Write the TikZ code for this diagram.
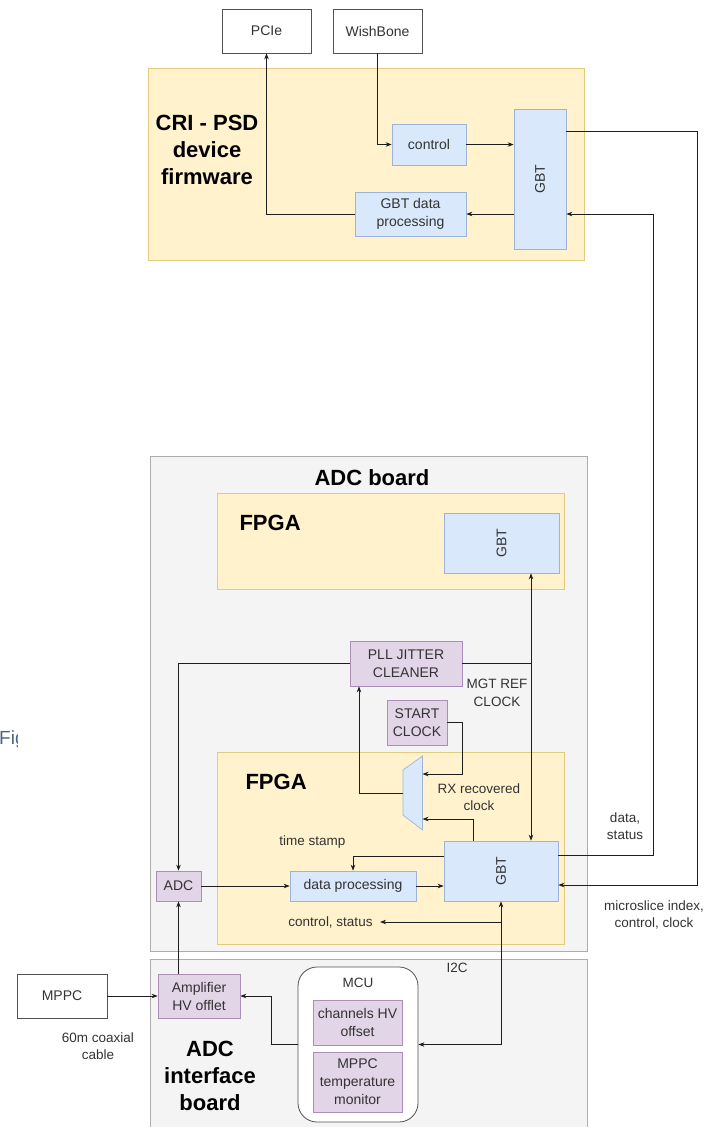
\documentclass[tikz,border=0pt]{standalone}
\usepackage{fontspec}
\setmainfont{Liberation Sans}
\usepackage{tikz}
\usetikzlibrary{positioning,calc,arrows.meta}
\definecolor{ink}      {HTML}{333333}
\definecolor{wire}     {HTML}{1E1E1E}
\definecolor{ipfill}   {HTML}{DAE8FC}
\definecolor{ipdraw}   {HTML}{9DB4D9}
\definecolor{chipfill} {HTML}{E1D5E7}
\definecolor{chipdraw} {HTML}{AB8FBA}
\definecolor{fpgafill} {HTML}{FFF2CC}
\definecolor{fpgadraw} {HTML}{E3CB7E}
\definecolor{boardfill}{HTML}{F4F4F4}
\definecolor{boarddraw}{HTML}{ADADAD}
\definecolor{figink}   {HTML}{4F6584}
\tikzset{
  >={Stealth[length=6pt,width=4.5pt]},
  every node/.style={font=\fontsize{14}{18}\selectfont, text=ink},
  % --- boxes
  mod/.style   = {draw=ink!85, fill=white, align=center, inner sep=1pt, line width=0.7pt},
  ip/.style    = {mod, draw=ipdraw, fill=ipfill},
  chip/.style  = {mod, draw=chipdraw, fill=chipfill},
  fpga/.style  = {draw=fpgadraw, fill=fpgafill, line width=0.7pt},
  board/.style = {draw=boarddraw, fill=boardfill, line width=0.9pt},
  mcubox/.style= {mod, rounded corners=19pt, line width=0.8pt},
  ttl/.style   = {font=\fontsize{22}{27}\selectfont\bfseries, text=black, align=center},
  lbl/.style   = {font=\fontsize{13.5}{17.5}\selectfont, align=center},
  % --- edges
  e/.style     = {->, draw=wire, line width=0.7pt},
  ee/.style    = {<->, draw=wire, line width=0.7pt},
  w/.style     = {draw=wire, line width=0.7pt},
}

\begin{document}
\begin{tikzpicture}[x=1pt,y=-1pt]
  \useasboundingbox (0,0) rectangle (709,1127);

  % cut-off caption at the left edge
  \begin{scope}
    \clip (0,700) rectangle (17,770);
    \node[anchor=west, inner sep=0pt, font=\fontsize{19}{21}\selectfont, text=figink] (figcut) at (-1,740) {Fig};
  \end{scope}

  % --- frames
  \node[fpga, minimum width=436, minimum height=192] (cri) at (366,164) {};
  \node[ttl] (crittl) at (207,150) {CRI - PSD\\device\\firmware};

  \node[board, minimum width=437, minimum height=495] (adcb) at (368.5,703.5) {};
  \node[ttl] (adcbttl) at (372,478) {ADC board};
  \node[fpga, minimum width=347, minimum height=96] (fpgaA) at (390.5,541) {};
  \node[ttl, anchor=west] (fpgaAttl) at (236,523) {FPGA};
  \node[fpga, minimum width=347, minimum height=192] (fpgaB) at (390.5,848) {};
  \node[ttl, anchor=west] (fpgaBttl) at (242,782) {FPGA};

  \node[board, minimum width=437, minimum height=181] (adcif) at (368.5,1049.5) {};
  \node[ttl] (adcifttl) at (210,1076) {ADC\\interface\\board};

  % --- top: CRI
  \node[mod, minimum width=89, minimum height=44] (pcie) at (266.5,31) {PCIe};
  \node[mod, minimum width=89, minimum height=44] (wish) at (377.5,31) {WishBone};
  \node[ip, minimum width=74, minimum height=41] (ctrl) at (429,144.5) {control};
  \node[ip, minimum width=111, minimum height=44] (gbtdp) at (410.5,214) {GBT data\\processing};
  \node[ip, minimum width=52, minimum height=140] (gbtA) at (540,179) {};
  \node[rotate=90] at (gbtA) {GBT};

  % --- ADC board
  \node[ip, minimum width=115, minimum height=60] (gbtB) at (501.5,543) {};
  \node[rotate=90] at (gbtB) {GBT};
  \node[chip, minimum width=112, minimum height=45] (pll) at (406,663.5) {PLL JITTER\\CLEANER};
  \node[chip, minimum width=60, minimum height=45] (start) at (417,722.5) {START\\CLOCK};
  \node[lbl] (mgt) at (497,693) {MGT REF\\CLOCK};
  \draw[ip] (403,770) -- (422.5,756) -- (422.5,830) -- (403,815) -- cycle;
  \coordinate (muxout) at (403,793);
  \coordinate (muxinA) at (422.5,774);
  \coordinate (muxinB) at (422.5,819);
  \node[lbl] (rx) at (479,797) {RX recovered\\clock};
  \node[ip, minimum width=114, minimum height=60] (gbtC) at (501,871) {};
  \node[rotate=90] at (gbtC) {GBT};
  \node[ip, minimum width=126, minimum height=30] (dproc) at (353,886) {data processing};
  \node[chip, minimum width=45, minimum height=30] (adc) at (178.5,886) {ADC};
  \node[lbl] (tstamp) at (312.5,842) {time stamp};
  \node[lbl] (ctrlst) at (330.5,922) {control, status};
  \node[lbl] (datast) at (625,826) {data,\\status};
  \node[lbl] (mslice) at (654,915) {microslice index,\\control, clock};

  % --- ADC interface board
  \node[mod, minimum width=90, minimum height=44] (mppc) at (62,996) {MPPC};
  \node[chip, minimum width=82, minimum height=44] (amp) at (199,996) {Amplifier\\HV offlet};
  \node[lbl] (coax) at (98,1046) {60m coaxial\\cable};
  \node[mcubox, minimum width=120, minimum height=155] (mcu) at (358,1044.5) {};
  \node[lbl] (mcuttl) at (358,983) {MCU};
  \node[chip, minimum width=89, minimum height=45] (chv) at (357.5,1022.5) {channels HV\\offset};
  \node[chip, minimum width=89, minimum height=60] (mtemp) at (357.5,1082) {MPPC\\temperature\\monitor};
  \node[lbl] (i2c) at (457,968) {I2C};

  % --- connectors
  \coordinate (busL) at (653,0);
  \coordinate (busR) at (697,0);
  \coordinate (clkbus) at (531,0);
  \coordinate (gbtAout) at ([yshift=48]gbtA.east);
  \coordinate (gbtAin) at ([yshift=-35]gbtA.east);
  \coordinate (gbtCout) at ([yshift=16]gbtC.east);
  \coordinate (gbtCin) at ([yshift=-14]gbtC.east);

  \draw[e] (wish.south) |- (ctrl.west);
  \draw[e] (ctrl.east) -- (gbtA.west |- ctrl.east);
  \draw[e] (gbtA.west |- gbtdp.east) -- (gbtdp.east);
  \draw[e] (gbtdp.west) -| (pcie.south);
  \draw[e] (gbtAout) -| (busR |- gbtCin) -- (gbtCin);
  \draw[e] (gbtCout) -| (busL |- gbtAin) -- (gbtAin);

  \draw[ee] (clkbus |- gbtB.south) -- (clkbus |- gbtC.north);
  \draw[w] (clkbus |- pll.east) -- (pll.east);
  \draw[e] (pll.west) -| (adc.north);
  \draw[e] (start.east) -| ($(muxinA)+(40,0)$) -- (muxinA);
  \draw[e] (muxout) -| ([xshift=-47]pll.south);
  \draw[e] ([xshift=-28]gbtC.north) |- (muxinB);
  \draw[e] (adc.east) -- (dproc.west);
  \draw[e] (dproc.east) -- (gbtC.west |- dproc.east);
  \draw[e] ([yshift=15]gbtC.west) -| (dproc.north);
  \draw[ee] (gbtC.south) |- (mcu.east);
  \draw[e] (gbtC.south |- ctrlst.east) -- ([xshift=4]ctrlst.east);

  \draw[e] (mppc.east) -- (amp.west);
  \draw[e] (adc.south |- amp.north) -- (adc.south);
  \draw[e] (mcu.west) -| ($(amp.east)+(31,0)$) -- (amp.east);
\end{tikzpicture}
\end{document}
